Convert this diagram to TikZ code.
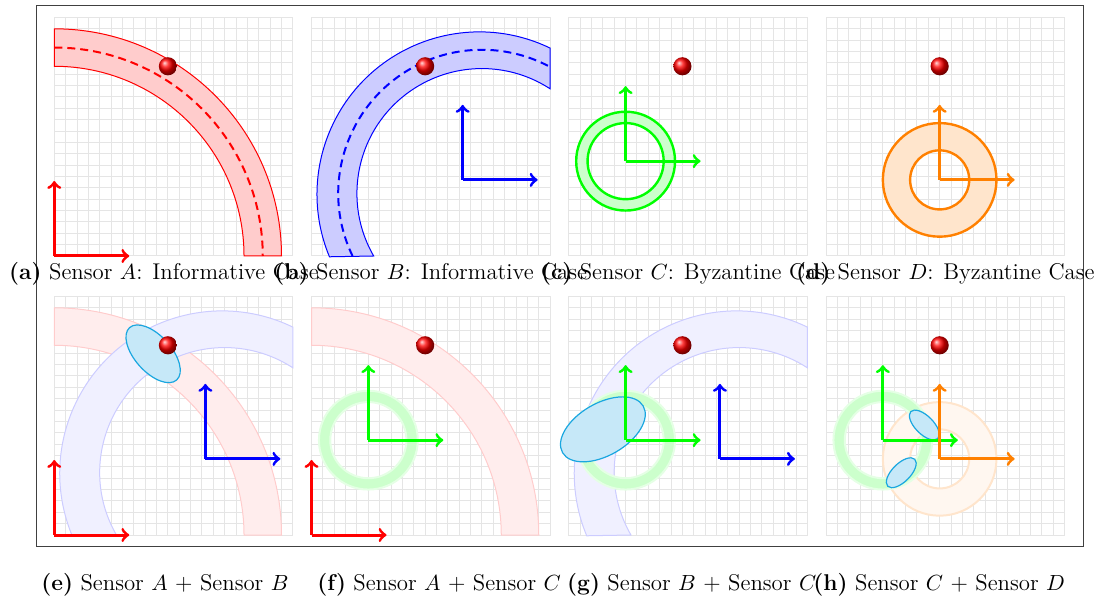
\documentclass[tikz,border=0pt]{standalone}
\usepackage{amsmath,amssymb}
\usetikzlibrary{arrows}
\usepackage{color}

\definecolor{ellfill}{HTML}{C6E8F8}
\definecolor{elldraw}{HTML}{1AA7E0}

\tikzset{
  gridline/.style={black!10, line width=0.5pt},
  axis/.style={->, line width=1.5pt},
  bandedge/.style={line width=0.5pt},
  midline/.style={line width=1pt, dash pattern=on 4pt off 2.5pt},
  estim/.style={fill=ellfill, draw=elldraw, line width=0.6pt},
  caption/.style={anchor=base, inner sep=0pt, font=\fontsize{11.4}{13}\selectfont},
}

% pieces of one panel (cell units, grid 21x21)
\newcommand{\sensorgrid}{%
  \draw[gridline,step=1] (0,0) grid (21,21);
  \draw[gridline] (0,0) rectangle (21,21);}
\newcommand{\target}{\shade[ball color=red] (10,16.7) circle (0.8);}
\newcommand{\bandA}[2]{%
  \filldraw[fill=#1, draw=#2, bandedge] (0,16.7) arc (90:0:16.7) -- (20,0) arc (0:90:20) -- cycle;}
\newcommand{\bandB}[2]{%
  \filldraw[fill=#1, draw=#2, bandedge] (5.47,0) arc[start angle=210, end angle=56.9, radius=11]
    -- (21,18.3) arc[start angle=64.2, end angle=202.6, radius=14.3] -- cycle;}
\newcommand{\ringC}[3]{%
  \filldraw[fill=#1, draw=#2, line width=#3, even odd rule] (5,8.35) circle (4.35) (5,8.35) circle (3.35);}
\newcommand{\ringD}[3]{%
  \filldraw[fill=#1, draw=#2, line width=#3, even odd rule] (10,6.7) circle (5) (10,6.7) circle (2.6);}
\newcommand{\axes}[3]{%
  \coordinate (o) at (#2,#3);
  \draw[axis,#1] (o) -- ++(6.6,0);
  \draw[axis,#1] (o) -- ++(0,6.6);}

\begin{document}
\begin{tikzpicture}[x=0.5pt,y=0.5pt]
  \useasboundingbox (0,0) rectangle (1101,599);

  % top row: one sensor each
  \begin{scope}[shift={(54.3,343)},x=5.68pt,y=5.68pt]
    \sensorgrid
    \bandA{red!20}{red}
    \draw[midline,red] (0,18.35) arc (90:0:18.35);
    \axes{red}{0}{0}
    \target
  \end{scope}
  \begin{scope}[shift={(311.55,343)},x=5.68pt,y=5.68pt]
    \sensorgrid
    \bandB{blue!20}{blue}
    \draw[midline,blue] (3.61,0) arc[start angle=205.8, end angle=61.7, radius=12.65];
    \axes{blue}{13.3}{6.7}
    \target
  \end{scope}
  \begin{scope}[shift={(568.8,343)},x=5.68pt,y=5.68pt]
    \sensorgrid
    \ringC{green!20}{green}{1.2pt}
    \axes{green}{5}{8.35}
    \target
  \end{scope}
  \begin{scope}[shift={(826.05,343)},x=5.68pt,y=5.68pt]
    \sensorgrid
    \ringD{orange!20}{orange}{1.2pt}
    \axes{orange}{10}{6.7}
    \target
  \end{scope}

  % bottom row: pairs of sensors
  \begin{scope}[shift={(54.3,64)},x=5.68pt,y=5.68pt]
    \sensorgrid
    \bandA{red!7}{red!20}
    \bandB{blue!6}{blue!20}
    \draw[estim, rotate around={-48:(8.7,15.95)}] (8.7,15.95) ellipse [x radius=3.1, y radius=1.6];
    \axes{red}{0}{0}
    \axes{blue}{13.3}{6.7}
    \target
  \end{scope}
  \begin{scope}[shift={(311.55,64)},x=5.68pt,y=5.68pt]
    \sensorgrid
    \bandA{red!7}{red!20}
    \ringC{green!20}{green!10}{1pt}
    \axes{red}{0}{0}
    \axes{green}{5}{8.35}
    \target
  \end{scope}
  \begin{scope}[shift={(568.8,64)},x=5.68pt,y=5.68pt]
    \sensorgrid
    \bandB{blue!6}{blue!20}
    \ringC{green!20}{green!10}{1pt}
    \draw[estim, rotate around={30:(3.0,9.3)}] (3.0,9.3) ellipse [x radius=4.1, y radius=2.3];
    \axes{blue}{13.3}{6.7}
    \axes{green}{5}{8.35}
    \target
  \end{scope}
  \begin{scope}[shift={(826.05,64)},x=5.68pt,y=5.68pt]
    \sensorgrid
    \ringD{orange!6}{orange!20}{1pt}
    \ringC{green!20}{green!10}{1pt}
    \draw[estim, rotate around={-45:(8.65,9.68)}] (8.65,9.68) ellipse [x radius=1.68, y radius=0.8];
    \draw[estim, rotate around={45:(6.62,5.48)}] (6.62,5.48) ellipse [x radius=1.68, y radius=0.8];
    \axes{green}{5}{8.35}
    \axes{orange}{10}{6.7}
    \target
  \end{scope}

  \draw[line width=0.5pt, black!75] (36,53) rectangle (1083,593);

  % captions
  \node[caption] (capA) at (164,319.7) {\textbf{(a)} Sensor $A$: Informative Case};
  \node[caption] (capB) at (430.8,319.7) {\textbf{(b)} Sensor $B$: Informative Case};
  \node[caption] (capC) at (688.05,319.7) {\textbf{(c)} Sensor $C$: Byzantine Case};
  \node[caption] (capD) at (945.3,319.7) {\textbf{(d)} Sensor $D$: Byzantine Case};
  \node[caption] (capAB) at (165,9) {\textbf{(e)} Sensor $A$ + Sensor $B$};
  \node[caption] (capAC) at (439.2,9) {\textbf{(f)} Sensor $A$ + Sensor $C$};
  \node[caption] (capBC) at (691.7,9) {\textbf{(g)} Sensor $B$ + Sensor $C$};
  \node[caption] (capCD) at (939.2,9) {\textbf{(h)} Sensor $C$ + Sensor $D$};
\end{tikzpicture}
\end{document}
